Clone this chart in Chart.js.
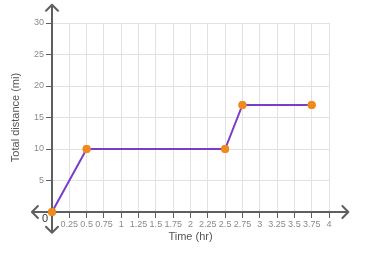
<!DOCTYPE html>
<html>
<head>
<meta charset="utf-8">
<script src="https://cdn.jsdelivr.net/npm/chart.js@4"></script>
<style>
  html, body { margin: 0; padding: 0; background: #fff; }
  #wrap { width: 365px; height: 255px; }
</style>
</head>
<body>
<div id="wrap"><canvas id="trip"></canvas></div>
<script>
// data
let timeHr = [0, 0.5, 2.5, 2.75, 3.75];
let distanceMi = [0, 10, 10, 17, 17];
let xTickValues = [0, 0.25, 0.5, 0.75, 1, 1.25, 1.5, 1.75, 2, 2.25, 2.5, 2.75, 3, 3.25, 3.5, 3.75, 4];
let yTickValues = [0, 5, 10, 15, 20, 25, 30];

let axisColor = "#5f5f5f";
let tickFont = { family: "Arial, 'Liberation Sans', sans-serif", size: 9 };

// axis lines with arrows at both ends, plus the origin "0"
let arrowAxes = {
    id: "arrowAxes",
    afterDatasetsDraw(chart) {
        let ctx = chart.ctx;
        let xs = chart.scales.x;
        let ys = chart.scales.y;
        let x0 = xs.getPixelForValue(0);
        let y0 = ys.getPixelForValue(0);
        let top = ys.getPixelForValue(32.9);
        let bottom = ys.getPixelForValue(-3.3);
        let left = xs.getPixelForValue(-0.29);
        let right = xs.getPixelForValue(4.28);
        ctx.save();
        ctx.strokeStyle = axisColor;
        ctx.lineWidth = 2;
        ctx.lineCap = "round";
        ctx.lineJoin = "round";
        ctx.beginPath();
        ctx.moveTo(x0, top); ctx.lineTo(x0, bottom);
        ctx.moveTo(left, y0); ctx.lineTo(right, y0);
        // arrow heads
        let a = 6;
        ctx.moveTo(x0 - a, top + a); ctx.lineTo(x0, top); ctx.lineTo(x0 + a, top + a);
        ctx.moveTo(x0 - a, bottom - a); ctx.lineTo(x0, bottom); ctx.lineTo(x0 + a, bottom - a);
        ctx.moveTo(left + a, y0 - a); ctx.lineTo(left, y0); ctx.lineTo(left + a, y0 + a);
        ctx.moveTo(right - a, y0 - a); ctx.lineTo(right, y0); ctx.lineTo(right - a, y0 + a);
        ctx.stroke();
        // redraw points over the axes
        chart.getDatasetMeta(0).data.forEach(p => p.draw(ctx, chart.chartArea));
        ctx.fillStyle = "#333";
        ctx.font = "11px Arial, 'Liberation Sans', sans-serif";
        ctx.textAlign = "center";
        ctx.textBaseline = "middle";
        ctx.fillText("0", x0 - 7, y0 + 7);
        ctx.restore();
    }
};

new Chart(document.getElementById("trip"), {
    type: "line",
    data: {
        datasets: [{
            data: timeHr.map((t, i) => ({ x: t, y: distanceMi[i] })),
            borderColor: "#7d3cc8",
            borderWidth: 2,
            pointRadius: 4,
            pointBackgroundColor: "#f08a1c",
            pointBorderColor: "#f08a1c",
            pointBorderWidth: 0,
            tension: 0,
            clip: false
        }]
    },
    options: {
        responsive: true,
        maintainAspectRatio: false,
        animation: false,
        layout: { padding: { top: 23, right: 36, left: 0, bottom: 0 } },
        plugins: { legend: { display: false }, tooltip: { enabled: false } },
        scales: {
            x: {
                type: "linear",
                min: 0,
                max: 4,
                afterBuildTicks: s => { s.ticks = xTickValues.map(v => ({ value: v })); },
                afterFit: s => { s.height = 43; },
                border: { display: false },
                grid: { color: "#e2e2e2", lineWidth: 1, tickLength: 6, tickColor: axisColor },
                ticks: {
                    color: "#8a8a8a",
                    font: tickFont,
                    padding: 1,
                    maxRotation: 0,
                    autoSkip: false,
                    callback: v => v === 0 ? "" : String(v)
                },
                title: {
                    display: true,
                    text: "Time (hr)",
                    color: "#555",
                    font: { family: "Arial, 'Liberation Sans', sans-serif", size: 11 },
                    padding: { top: 0, bottom: 11 }
                }
            },
            y: {
                min: 0,
                max: 30,
                afterBuildTicks: s => { s.ticks = yTickValues.map(v => ({ value: v })); },
                afterFit: s => { s.width = 52; },
                border: { display: false },
                grid: { color: "#e2e2e2", lineWidth: 1, tickLength: 6, tickColor: axisColor },
                ticks: {
                    color: "#8a8a8a",
                    font: tickFont,
                    padding: 2,
                    callback: v => v === 0 ? "" : String(v)
                },
                title: {
                    display: true,
                    text: "Total distance (mi)",
                    color: "#555",
                    font: { family: "Arial, 'Liberation Sans', sans-serif", size: 11 },
                    padding: { top: 9, bottom: 0 }
                }
            }
        }
    },
    plugins: [arrowAxes]
});
</script>
</body>
</html>
